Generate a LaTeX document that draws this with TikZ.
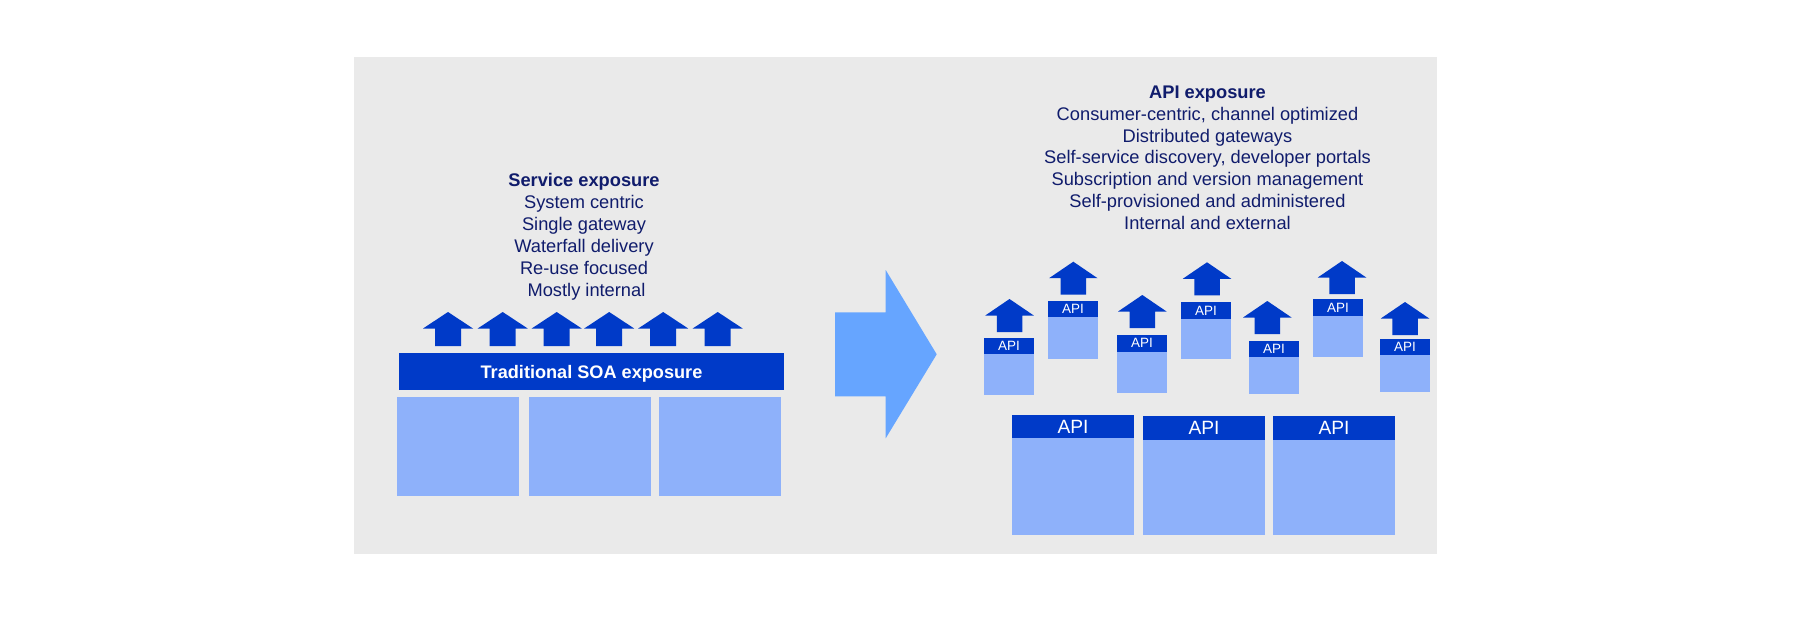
\documentclass[tikz,border=0pt]{standalone}
\usepackage{fontspec}
\setmainfont{Liberation Sans}
\definecolor{panelgray}{RGB}{234,234,234}
\definecolor{boxdark}{RGB}{0,58,200}
\definecolor{boxlight}{RGB}{142,177,250}
\definecolor{bigarrow}{RGB}{102,165,255}
\definecolor{navy}{RGB}{16,28,108}
\newcommand\myUpArrow[5]{%
  \fill[upfill] (#1,#2) -- (#1+#4,#2+16.5) -- (#1+#5,#2+16.5) -- (#1+#5,#2+#3)
    -- (#1-#5,#2+#3) -- (#1-#5,#2+16.5) -- (#1-#4,#2+16.5) -- cycle;}
\newcommand\mySmallApi[5]{%
  \node[body, bwh={50}{#5-#4}] (#1b) at (#2,#4) {};
  \node[lab, bwh={50}{#4-#3}] (#1) at (#2,#3) {API};}
\begin{document}
\begin{tikzpicture}[x=0.75pt,y=-0.75pt,
  bwh/.style 2 args={minimum width=(#1)*0.75pt, minimum height=(#2)*0.75pt},
  body/.style={fill=boxlight, draw=none, inner sep=0pt, outer sep=0pt, anchor=north west},
  lab/.style={fill=boxdark, text=white, inner sep=0pt, outer sep=0pt, anchor=north west,
    font=\fontsize{10.1}{12}\selectfont},
  biglab/.style={lab, font=\fontsize{14.4}{17}\selectfont},
  txt/.style={text=navy, inner sep=0pt, anchor=base, font=\fontsize{13.7}{16}\selectfont},
  ttl/.style={text=navy, inner sep=0pt, anchor=base, font=\fontsize{13.7}{16}\selectfont\bfseries},
  upfill/.style={fill=boxdark},
]
\useasboundingbox (0,0) rectangle (1801,627);
\fill[white] (0,0) rectangle (1801,627);
\fill[panelgray] (354,57) rectangle (1437,553.5);

% ---------- left: service exposure ----------
\node[ttl] (st0) at (584,186.7) {Service exposure};
\node[txt] (st1) at (584,208.7) {System centric};
\node[txt] (st2) at (584,230.7) {Single gateway};
\node[txt] (st3) at (584,252.7) {Waterfall delivery};
\node[txt] (st4) at (584,274.7) {Re-use focused};
\node[txt] (st5) at (586.5,296.7) {Mostly internal};

\myUpArrow{448}{312}{34}{25}{13}
\myUpArrow{502.7}{312}{34}{25}{13}
\myUpArrow{556.7}{312}{34}{25}{13}
\myUpArrow{609.2}{312}{34}{25}{13}
\myUpArrow{663.2}{312}{34}{25}{13}
\myUpArrow{717.7}{312}{34}{25}{13}

\node[lab, bwh={385}{36.7}, text depth=0pt, font=\fontsize{13.6}{16}\selectfont\bfseries]
  (soa) at (399,353.3) {Traditional SOA exposure};
\node[body, bwh={122}{98.7}] (sys1) at (397,397) {};
\node[body, bwh={122}{98.7}] (sys2) at (529,397) {};
\node[body, bwh={122}{98.7}] (sys3) at (659,397) {};

% ---------- big transition arrow ----------
\fill[bigarrow] (835,312.3) -- (885.7,312.3) -- (885.7,270) -- (936.7,354.3)
  -- (885.7,438.3) -- (885.7,396.3) -- (835,396.3) -- cycle;

% ---------- right: API exposure ----------
\node[ttl] (at0) at (1207.5,98.5) {API exposure};
\node[txt] (at1) at (1207.5,120.3) {Consumer-centric, channel optimized};
\node[txt] (at2) at (1207.5,142.1) {Distributed gateways};
\node[txt] (at3) at (1207.5,163.9) {Self-service discovery, developer portals};
\node[txt] (at4) at (1207.5,185.7) {Subscription and version management};
\node[txt] (at5) at (1207.5,207.5) {Self-provisioned and administered};
\node[txt] (at6) at (1207.5,229.3) {Internal and external};

\myUpArrow{1009.5}{299}{33}{24.25}{12.75}
\myUpArrow{1073.3}{261.7}{33}{24.25}{12.75}
\myUpArrow{1142.3}{295}{33}{24.25}{12.75}
\myUpArrow{1207}{262.3}{33}{24.25}{12.75}
\myUpArrow{1267.3}{301}{33}{24.25}{12.75}
\myUpArrow{1342}{261}{33}{24.25}{12.75}
\myUpArrow{1405}{302}{33}{24.25}{12.75}

\mySmallApi{api1}{984}{337.7}{354}{394.7}
\mySmallApi{api2}{1048}{301}{317}{358.7}
\mySmallApi{api3}{1117}{335}{351.7}{392.7}
\mySmallApi{api4}{1181}{302}{319}{358.7}
\mySmallApi{api5}{1249}{341}{356.7}{394}
\mySmallApi{api6}{1313}{299}{316}{357}
\mySmallApi{api7}{1380}{339}{355}{391.7}

\node[body, bwh={122}{97}] (big1b) at (1012,438) {};
\node[biglab, bwh={122}{23}] (big1) at (1012,415) {API};
\node[body, bwh={122}{95}] (big2b) at (1143,440) {};
\node[biglab, bwh={122}{24}] (big2) at (1143,416) {API};
\node[body, bwh={122}{95}] (big3b) at (1273,440) {};
\node[biglab, bwh={122}{24}] (big3) at (1273,416) {API};
\end{tikzpicture}
\end{document}
